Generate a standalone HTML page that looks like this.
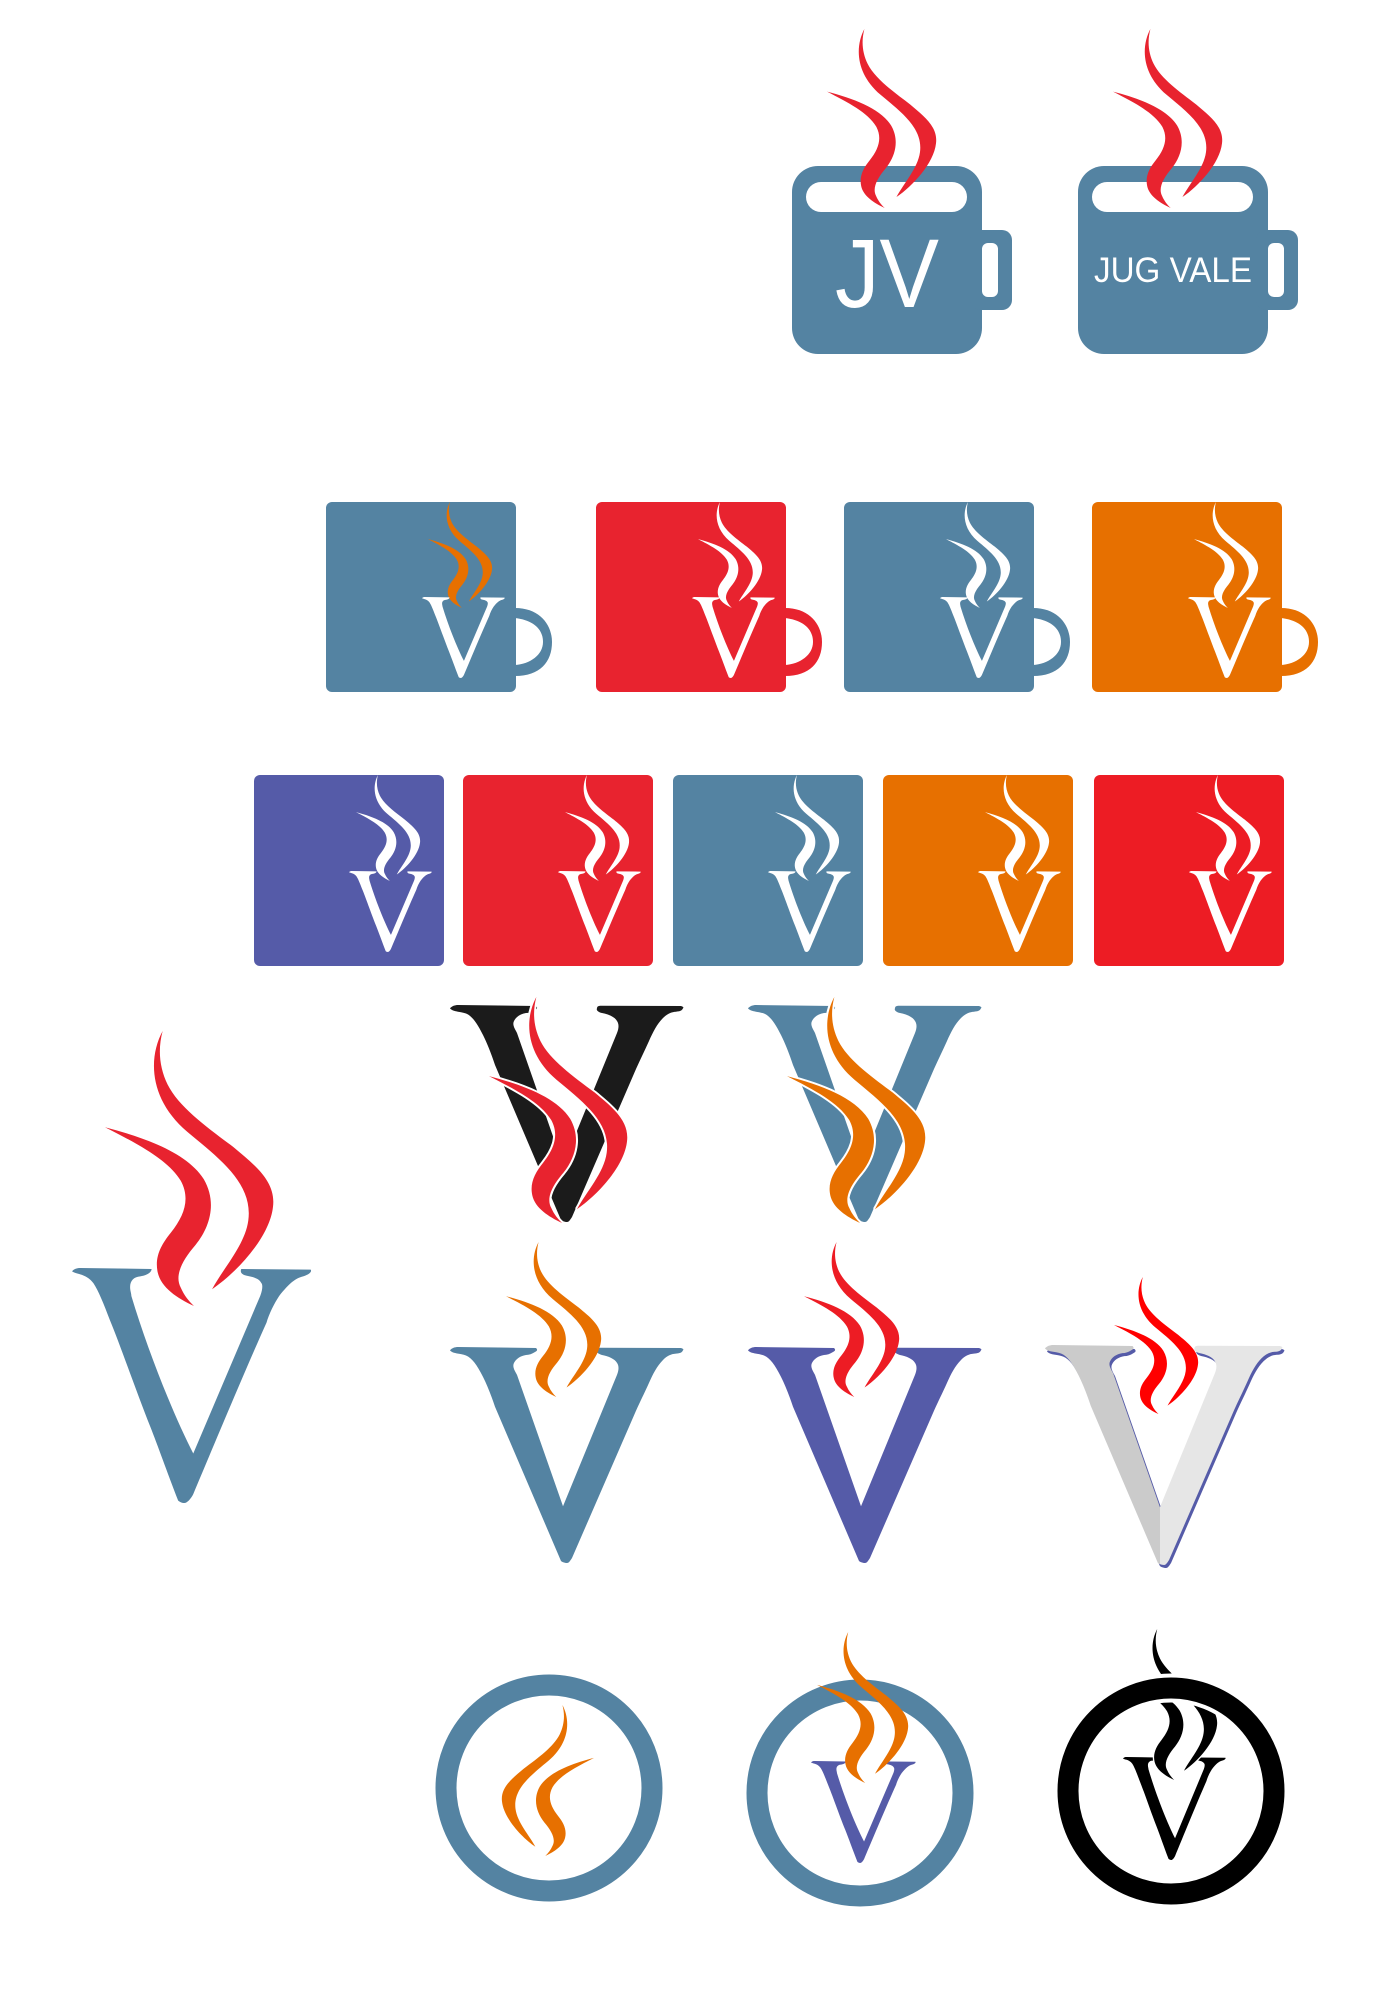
<!DOCTYPE html>
<html><head><meta charset="utf-8">
<style>html,body{margin:0;padding:0;background:#fff}svg{display:block}</style>
</head><body>
<svg xmlns="http://www.w3.org/2000/svg" width="1390" height="2000" viewBox="0 0 1390 2000">
<defs>
<symbol id="st" viewBox="0 0 102 180" preserveAspectRatio="none" overflow="visible">
<path d="M35,0 C26,18 27,45 50,66 C70,84 90,100 87,124 C85,140 72,155 65,169 C80,158 100,135 102,115 C104,98 90,87 78,76 C62,63 45,50 38,35 C33,24 32,12 35,0 Z"/>
<path d="M0,63 C25,70 50,80 60,97 C68,112 64,128 55,140 C47,150 42,160 46,168 C48,173 51,177 54,180 C44,175 34,168 32,158 C30,148 34,140 40,132 C48,121 52,110 46,98 C38,84 20,74 0,63 Z"/>
</symbol>
<symbol id="v1" viewBox="0 0 190 185" preserveAspectRatio="none" overflow="visible">
<path d="M0,2.6 C2,0.5 4,0 6.6,0 L63,0.8 C63,4 58,6 54,6.6 C49,7 46,10 46,15 C46,18 47,20 47,22 C60,65 80,115 96,146 L149,22 C151,17 151,13 150,12 C148,8 143,7 138,6 C134,5 133,3 134,0.8 L189,1.3 C190,3 188,5 183,6.6 C177,8 172,12 164,22 C160,28 156,36 154,43 C135,85 110,145 96,178 C94,182 91,185 89,185 C87,185 85,184 84,183 C75,160 68,140 62,125 C50,95 38,60 30,41 C25,28 21,18 17,12 C14,8 10,6 6.6,5 C3,4 1,3.5 0,2.6 Z"/>
</symbol>
<symbol id="v2" viewBox="0 0 233 217" preserveAspectRatio="none" overflow="visible">
<path d="M0,3.3 C2,1 5,0 8,0 L86,1 C88,3 87,4 85,5 C82,7 79,8 76,8 C70,9 66,12 64,16 C62,20 65,24 67,28 L113,160 L167,28 C169,23 169,19 167,16 C165,12 158,9 152,8 C148,7 146,5 147,3.3 C147,1 149,0.7 151,0.7 L231,1 C233,1.5 234,2.5 233,3.3 C232,6 229,6.5 226,6.7 C221,7 217,9 213,13 C207,19 203,27 199,36 C195,45 190,55 186,64 L122,212 C120,215 119,217 117,217 C115,217 112,216 111,215 L45,60 C41,48 37,38 33,30 C27,18 22,11 16,8.5 C13,7.5 10,7 8,6.7 C4,6 1,5 0,3.3 Z"/>
</symbol>
<clipPath id="cl" clipPathUnits="userSpaceOnUse"><rect x="1000" y="1300" width="160" height="300"/></clipPath>
<clipPath id="cr" clipPathUnits="userSpaceOnUse"><rect x="1160" y="1300" width="160" height="300"/></clipPath>
</defs>

<!-- Row 1 mugs -->
<g fill="#5483a2">
<rect x="792" y="166" width="190" height="188" rx="26"/>
<rect x="970" y="230" width="42" height="80" rx="10"/>
<rect x="1078" y="166" width="190" height="188" rx="26"/>
<rect x="1256" y="230" width="42" height="80" rx="10"/>
</g>
<g fill="#fff">
<rect x="806" y="182" width="161" height="30" rx="15"/>
<rect x="982" y="243" width="16" height="54" rx="6"/>
<rect x="1092" y="182" width="161" height="30" rx="15"/>
<rect x="1268" y="243" width="16" height="54" rx="6"/>
</g>
<text x="835" y="307" fill="#fff" font-family="Liberation Sans, sans-serif" font-size="97" textLength="104" lengthAdjust="spacingAndGlyphs">JV</text>
<text x="1094" y="282" fill="#fff" font-family="Liberation Sans, sans-serif" font-size="35" textLength="158" lengthAdjust="spacingAndGlyphs">JUG VALE</text>
<use href="#st" x="827" y="29" width="109" height="179" fill="#e8232f"/>
<use href="#st" x="1113" y="29" width="109" height="179" fill="#e8232f"/>

<!-- Row 2 mugs -->
<g>
<rect x="326" y="502" width="190" height="190" rx="6" fill="#5483a2"/>
<path d="M515,608 C540,608 552,625 552,642 C552,662 540,676 515,676 L515,665 C530,664 543,655 543,642 C543,628 532,620 515,618 Z" fill="#5483a2"/>
<use href="#st" x="428" y="502" width="64" height="106" fill="#e77000"/>
<use href="#v1" x="422" y="597" width="83" height="81" fill="#fff"/>

<rect x="596" y="502" width="190" height="190" rx="6" fill="#e8232f"/>
<path d="M785,608 C810,608 822,625 822,642 C822,662 810,676 785,676 L785,665 C800,664 813,655 813,642 C813,628 802,620 785,618 Z" fill="#e8232f"/>
<use href="#st" x="698" y="502" width="64" height="106" fill="#fff"/>
<use href="#v1" x="692" y="597" width="83" height="81" fill="#fff"/>

<rect x="844" y="502" width="190" height="190" rx="6" fill="#5483a2"/>
<path d="M1033,608 C1058,608 1070,625 1070,642 C1070,662 1058,676 1033,676 L1033,665 C1048,664 1061,655 1061,642 C1061,628 1050,620 1033,618 Z" fill="#5483a2"/>
<use href="#st" x="946" y="502" width="64" height="106" fill="#fff"/>
<use href="#v1" x="940" y="597" width="83" height="81" fill="#fff"/>

<rect x="1092" y="502" width="190" height="190" rx="6" fill="#e77000"/>
<path d="M1281,608 C1306,608 1318,625 1318,642 C1318,662 1306,676 1281,676 L1281,665 C1296,664 1309,655 1309,642 C1309,628 1298,620 1281,618 Z" fill="#e77000"/>
<use href="#st" x="1194" y="502" width="64" height="106" fill="#fff"/>
<use href="#v1" x="1188" y="597" width="83" height="81" fill="#fff"/>
</g>

<!-- Row 3 tiles -->
<g>
<rect x="254" y="775" width="190" height="191" rx="6" fill="#555ba8"/>
<use href="#st" x="356" y="775" width="64" height="106" fill="#fff"/>
<use href="#v1" x="349" y="871" width="83" height="81" fill="#fff"/>
<rect x="463" y="775" width="190" height="191" rx="6" fill="#e8232f"/>
<use href="#st" x="565" y="775" width="64" height="106" fill="#fff"/>
<use href="#v1" x="558" y="871" width="83" height="81" fill="#fff"/>
<rect x="673" y="775" width="190" height="191" rx="6" fill="#5483a2"/>
<use href="#st" x="775" y="775" width="64" height="106" fill="#fff"/>
<use href="#v1" x="768" y="871" width="83" height="81" fill="#fff"/>
<rect x="883" y="775" width="190" height="191" rx="6" fill="#e77000"/>
<use href="#st" x="985" y="775" width="64" height="106" fill="#fff"/>
<use href="#v1" x="978" y="871" width="83" height="81" fill="#fff"/>
<rect x="1094" y="775" width="190" height="191" rx="6" fill="#ed1c24"/>
<use href="#st" x="1196" y="775" width="64" height="106" fill="#fff"/>
<use href="#v1" x="1189" y="871" width="83" height="81" fill="#fff"/>
</g>

<!-- Big V -->
<use href="#v1" x="72" y="1268" width="240" height="235" fill="#5483a2"/>
<use href="#st" x="105" y="1031" width="168" height="275" fill="#e8232f"/>

<!-- Bold Vs row 1 -->
<use href="#v2" x="450" y="1005" width="233" height="217" fill="#1b1b1b"/>
<use href="#st" x="489" y="997" width="138" height="226" fill="#e8232f" stroke="#fff" stroke-width="3" paint-order="stroke"/>
<use href="#v2" x="748" y="1005" width="233" height="217" fill="#5483a2"/>
<use href="#st" x="787" y="997" width="138" height="226" fill="#e77000" stroke="#fff" stroke-width="3" paint-order="stroke"/>

<!-- Bold Vs row 2 -->
<use href="#v2" x="450" y="1347" width="233" height="216" fill="#5483a2"/>
<use href="#st" x="506" y="1242" width="95" height="155" fill="#e77000"/>
<use href="#v2" x="748" y="1347" width="233" height="216" fill="#555ba8"/>
<use href="#st" x="804" y="1242" width="95" height="155" fill="#ed1c24"/>

<!-- Gray V -->
<use href="#v2" x="1047" y="1348" width="237" height="220" fill="#555ba8"/>
<g clip-path="url(#cl)"><use href="#v2" x="1045" y="1345" width="237" height="220" fill="#cbcbcb"/></g>
<g clip-path="url(#cr)"><use href="#v2" x="1045" y="1345" width="237" height="220" fill="#e6e6e6"/></g>
<use href="#st" x="1114" y="1277" width="84" height="137" fill="#ff0000"/>

<!-- Circles -->
<circle cx="549" cy="1788" r="103" fill="none" stroke="#5483a2" stroke-width="21"/>
<g transform="translate(594,1705) scale(-1,1)">
<use href="#st" x="0" y="0" width="92" height="151" fill="#e77000"/>
</g>

<circle cx="860" cy="1793" r="103" fill="none" stroke="#5483a2" stroke-width="21"/>
<use href="#v1" x="811" y="1761" width="105" height="102" fill="#555ba8"/>
<use href="#st" x="817" y="1632" width="91" height="151" fill="#e77000"/>

<use href="#v1" x="1123" y="1757" width="103" height="103" fill="#000"/>
<use href="#st" x="1126" y="1629" width="91" height="151" fill="#000" stroke="#fff" stroke-width="3" paint-order="stroke"/>
<circle cx="1171" cy="1791" r="103" fill="none" stroke="#fff" stroke-width="29"/>
<circle cx="1171" cy="1791" r="103" fill="none" stroke="#000" stroke-width="21"/>
</svg>
</body></html>
